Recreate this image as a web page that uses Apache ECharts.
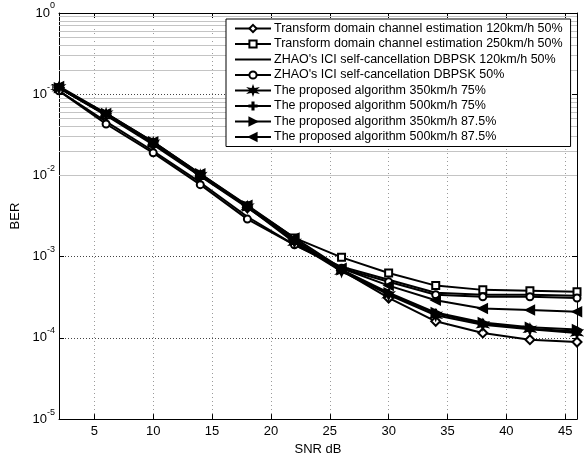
<!DOCTYPE html>
<html><head><meta charset="utf-8">
<script src="https://cdn.jsdelivr.net/npm/echarts@6/dist/echarts.min.js"></script>
<style>html,body{margin:0;padding:0;background:#fff}#c{width:584px;height:461px}</style>
</head><body><div id="c"></div>
<script>
const snr = [2, 6, 10, 14, 18, 22, 26, 30, 34, 38, 42, 46];
const tdce120 = [0.12, 0.055, 0.024, 0.0098, 0.0040, 0.0016, 0.00068, 0.00031, 0.00016, 0.000115, 0.000095, 0.000089];
const tdce250 = [0.12, 0.056, 0.025, 0.010, 0.0042, 0.0017, 0.00098, 0.00063, 0.00044, 0.00039, 0.00038, 0.00037];
const zhao120 = [0.11, 0.046, 0.020, 0.0082, 0.0031, 0.0014, 0.00075, 0.00052, 0.00036, 0.00034, 0.00034, 0.00033];
const zhao50 = [0.11, 0.043, 0.019, 0.0077, 0.0029, 0.0014, 0.00072, 0.00049, 0.00034, 0.00032, 0.00032, 0.00031];
const prop350_75 = [0.12, 0.057, 0.025, 0.010, 0.0041, 0.0015, 0.00066, 0.00034, 0.00019, 0.000145, 0.000128, 0.000115];
const prop500_75 = [0.12, 0.056, 0.025, 0.010, 0.0042, 0.0016, 0.00068, 0.00035, 0.00020, 0.00015, 0.00013, 0.00012];
const prop350_875 = [0.12, 0.058, 0.026, 0.0105, 0.0042, 0.0016, 0.00069, 0.00036, 0.000205, 0.000155, 0.000135, 0.000127];
const prop500_875 = [0.125, 0.058, 0.026, 0.0105, 0.0043, 0.0017, 0.00072, 0.00044, 0.00029, 0.00023, 0.00022, 0.00021];
const xTicks = [5, 10, 15, 20, 25, 30, 35, 40, 45];
const seriesNames = [
  'Transform domain channel estimation 120km/h 50%',
  'Transform domain channel estimation 250km/h 50%',
  "ZHAO's ICI self-cancellation DBPSK 120km/h 50%",
  "ZHAO's ICI self-cancellation DBPSK 50%",
  'The proposed algorithm 350km/h 75%',
  'The proposed algorithm 500km/h 75%',
  'The proposed algorithm 350km/h 87.5%',
  'The proposed algorithm 500km/h 87.5%'
];
const seriesValues = [tdce120, tdce250, zhao120, zhao50, prop350_75, prop500_75, prop350_875, prop500_875];

// marker shapes (style only)
function starPath(n, r1, r2) {
  let d = '';
  for (let i = 0; i < 2 * n; i++) {
    const a = Math.PI * i / n - Math.PI / 2;
    const r = i % 2 === 0 ? r1 : r2;
    d += (i === 0 ? 'M' : 'L') + (10 + r * Math.cos(a)).toFixed(2) + ',' + (10 + r * Math.sin(a)).toFixed(2);
  }
  return 'path://' + d + 'Z';
}
const plusPath = 'path://M8.5,0H11.5V8.5H20V11.5H11.5V20H8.5V11.5H0V8.5H8.5Z';
const styles = [
  {symbol: 'emptyDiamond', size: 9, rot: 0},
  {symbol: 'emptyRect', size: 7, rot: 0},
  {symbol: 'none', size: 0, rot: 0},
  {symbol: 'emptyCircle', size: 7, rot: 0},
  {symbol: starPath(6, 10, 4), size: 10, rot: 0},
  {symbol: plusPath, size: 8, rot: 0},
  {symbol: 'triangle', size: 9, rot: -90},
  {symbol: 'triangle', size: 9, rot: 90}
];

const minorVals = [];
for (let e = -5; e < 0; e++) for (let m = 2; m <= 9; m++) minorVals.push(m * Math.pow(10, e));

const font = 'Arial, "Liberation Sans", Helvetica, sans-serif';
const series = seriesValues.map((vals, i) => ({
  name: seriesNames[i],
  type: 'line',
  data: snr.map((x, k) => [x, vals[k]]),
  symbol: styles[i].symbol,
  symbolSize: styles[i].size,
  symbolRotate: styles[i].rot,
  showSymbol: styles[i].symbol !== 'none',
  color: '#000',
  lineStyle: {color: '#000', width: 2},
  itemStyle: {color: '#000', borderColor: '#000', borderWidth: 1.5},
  z: 3,
  animation: false
}));
series.unshift({
  name: 'minorgrid',
  type: 'line',
  data: [],
  z: 1,
  silent: true,
  animation: false,
  markLine: {
    z: 1,
    silent: true,
    symbol: ['none', 'none'],
    label: {show: false},
    animation: false,
    lineStyle: {color: '#c4c4c4', type: 'solid', width: 1},
    data: minorVals.map(v => ({yAxis: v}))
  }
});

const legendData = seriesNames.map((n, i) =>
  styles[i].symbol === 'none'
    ? {name: n, icon: 'path://M0,0H36V2H0Z', itemStyle: {borderWidth: 0, color: '#000'}}
    : {name: n});

const chart = echarts.init(document.getElementById('c'), null, {renderer: 'canvas'});
chart.setOption({
  animation: false,
  backgroundColor: '#fff',
  textStyle: {fontFamily: font},
  grid: {left: 59, top: 13, right: 7, bottom: 39, containLabel: false},
  legend: {
    z: 20,
    data: legendData,
    orient: 'vertical',
    left: 226,
    top: 19,
    padding: [3, 8, 3, 8],
    itemWidth: 36,
    itemHeight: 9,
    itemGap: 2.5,
    backgroundColor: '#fff',
    borderColor: '#000',
    borderWidth: 1,
    borderRadius: 0,
    textStyle: {fontFamily: font, fontSize: 12.5, color: '#000', padding: [0, 0, 0, -2]},
    selectedMode: false
  },
  xAxis: [{
    type: 'value', min: 2, max: 46,
    name: 'SNR dB', nameLocation: 'middle', nameGap: 21,
    nameTextStyle: {fontFamily: font, fontSize: 13, color: '#000'},
    axisLine: {show: true, onZero: false, lineStyle: {color: '#000', width: 1}},
    axisTick: {show: true, inside: true, length: 5, customValues: xTicks, lineStyle: {color: '#000'}},
    axisLabel: {customValues: xTicks, fontFamily: font, fontSize: 13, color: '#000', margin: 6},
    splitLine: {show: true, lineStyle: {color: '#9a9a9a', type: [1, 3], width: 1}}
  }, {
    type: 'value', min: 2, max: 46, position: 'top',
    axisLine: {show: true, onZero: false, lineStyle: {color: '#000', width: 1}},
    axisTick: {show: true, inside: true, length: 5, customValues: xTicks, lineStyle: {color: '#000'}},
    axisLabel: {show: false, customValues: xTicks},
    splitLine: {show: false}
  }],
  yAxis: [{
    type: 'log', logBase: 10, min: 1e-5, max: 1,
    name: 'BER', nameLocation: 'middle', nameGap: 37,
    nameTextStyle: {fontFamily: font, fontSize: 13, color: '#000'},
    axisLine: {show: true, onZero: false, lineStyle: {color: '#000', width: 1}},
    axisTick: {show: true, inside: true, length: 5, lineStyle: {color: '#000'}},
    axisLabel: {
      margin: 4,
      formatter: v => '{b|10}{s|' + Math.round(Math.log10(v)) + '}',
      rich: {
        b: {fontFamily: font, fontSize: 13, color: '#000', padding: [5, 0, 5, 0]},
        s: {fontFamily: font, fontSize: 9, color: '#000', verticalAlign: 'top'}
      }
    },
    splitLine: {show: true, lineStyle: {color: '#444', type: [1, 2], width: 1}}
  }, {
    type: 'log', logBase: 10, min: 1e-5, max: 1, position: 'right',
    axisLine: {show: true, onZero: false, lineStyle: {color: '#000', width: 1}},
    axisTick: {show: true, inside: true, length: 5, lineStyle: {color: '#000'}},
    axisLabel: {show: false},
    splitLine: {show: false}
  }],
  series: series
});
</script>
</body></html>
